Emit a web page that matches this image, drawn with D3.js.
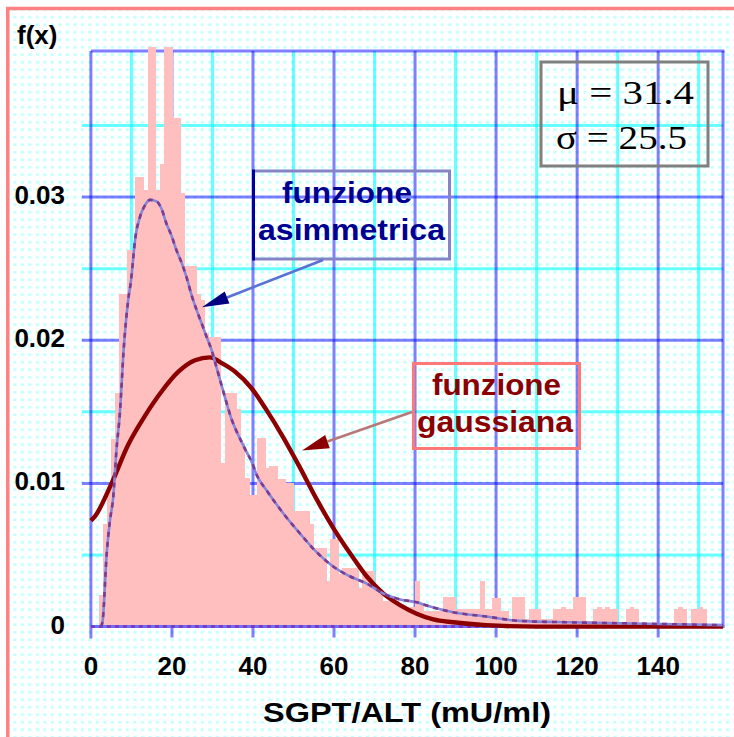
<!DOCTYPE html>
<html>
<head>
<meta charset="utf-8">
<script src="https://cdn.jsdelivr.net/npm/d3@7"></script>
<style>
  html, body { margin: 0; padding: 0; background: #fff; }
  svg { display: block; }
</style>
</head>
<body>
<svg id="chart" width="734" height="737"></svg>
<script>
// ---- data ----------------------------------------------------------------
const xTicks = [0, 20, 40, 60, 80, 100, 120, 140];
const yTicks = [0, 0.01, 0.02, 0.03];
const yTickLabels = ["0", "0.01", "0.02", "0.03"];
const xTitle = "SGPT/ALT (mU/ml)";
const yTitle = "f(x)";

const mu = 31.4;
const sigma = 25.5;

// relative frequency per 1 mU/ml bin, bins start at 0
const histogram = [
  0, 0, 0.0022, 0.0072, 0.0095, 0.0131, 0.0163, 0.0232, 0.0232, 0.0263,
  0.0263, 0.0314, 0.0314, 0.0305, 0.0405, 0.0405, 0.0305, 0.0323, 0.0405, 0.0405,
  0.0355, 0.0355, 0.0303, 0.0252, 0.0252, 0.0252, 0.0232, 0.0228, 0.0205, 0.0202,
  0.0202, 0.0202, 0.0114, 0.0163, 0.0163, 0.0163, 0.0152, 0.0128, 0.0104, 0.0092,
  0.0092, 0.0132, 0.0132, 0.0111, 0.0112, 0.0112, 0.0103, 0.0103, 0.0100, 0.0100,
  0.0081, 0.0081, 0.0081, 0.0081, 0.0072, 0.0055, 0.0055, 0.0055, 0.0032, 0.0061,
  0.0061, 0.0037, 0.0041, 0.0041, 0.0041, 0.0041, 0.0027, 0.0039, 0.0039, 0.0039,
  0.0025, 0.0025, 0.0018, 0.0018, 0.0018, 0.0018, 0.0014, 0.0014, 0.0014, 0.0014,
  0.0032, 0.0015, 0.0011, 0.0011, 0.0011, 0.0011, 0.0011, 0.0021, 0.0021, 0.0021,
  0.0012, 0.0012, 0.0012, 0.0012, 0.0012, 0.0012, 0.0032, 0.0012, 0.0012, 0.0020,
  0.0020, 0.0011, 0.0011, 0.0005, 0.0021, 0.0021, 0.0021, 0.0005, 0.0012, 0.0012,
  0.0012, 0.0005, 0.0005, 0.0005, 0.0012, 0.0012, 0.0014, 0.0012, 0.0012, 0.0021,
  0.0021, 0.0021, 0.0004, 0.0004, 0.0012, 0.0014, 0.0012, 0.0014, 0.0012, 0.0012,
  0, 0, 0.0012, 0.0014, 0.0012, 0, 0, 0, 0, 0,
  0, 0, 0, 0, 0.0012, 0.0014, 0.0012, 0, 0.0012, 0.0012,
  0.0014, 0.0012, 0, 0, 0, 0
];
const binWidth = 1;

// skewed (asymmetric) density curve
const asymX = [2.5, 2.9, 3.9, 4.7, 5.5, 6.3, 7.2, 7.6, 8.0, 8.4, 9.2, 10.0, 10.4, 10.9,
  12.1, 13.3, 14.6, 16.2, 17.4, 18.7, 19.9, 21.1, 22.4, 23.6, 24.9, 26.1, 27.3, 28.6,
  29.8, 31.0, 32.3, 33.5, 34.7, 36.0, 37.2, 38.4, 39.7, 40.9, 43.4, 47.5, 51.6, 55.7,
  59.8, 64.0, 68.1, 72.2, 76.3, 80.4, 83.7, 89.4, 97.6, 105.8, 118, 137, 156];
const asymY = [0, 0.0004, 0.0051, 0.0074, 0.0090, 0.0123, 0.0151, 0.0170, 0.0190, 0.0205,
  0.0228, 0.0244, 0.0256, 0.0270, 0.0286, 0.0294, 0.0298, 0.0297, 0.0292, 0.0281, 0.0273,
  0.0263, 0.0254, 0.0244, 0.0231, 0.0221, 0.0212, 0.0202, 0.0193, 0.0181, 0.0168, 0.0156,
  0.0145, 0.0136, 0.0129, 0.0122, 0.0115, 0.0106, 0.0095, 0.0079, 0.0065, 0.0052, 0.0042,
  0.0035, 0.0030, 0.0023, 0.0019, 0.0017, 0.0014, 0.0010, 0.0007, 0.0004, 0.0003, 0.0002,
  0.0001];

// gaussian density curve
const gaussX = [0, 1, 5.1, 9.2, 13.3, 17.4, 21.6, 25.7, 29.4, 32.3, 35.6, 39.5, 43.4, 47.5,
  51.6, 55.7, 59.8, 64.0, 68.1, 72.2, 76.3, 80.4, 84.5, 89.4, 97.6, 110, 156];
const gaussY = [0.0074, 0.0077, 0.0100, 0.0127, 0.0147, 0.0164, 0.0178, 0.0186, 0.0188,
  0.0184, 0.0178, 0.0167, 0.0151, 0.0132, 0.0111, 0.0089, 0.0069, 0.0051, 0.0035, 0.0023,
  0.0015, 0.0009, 0.0005, 0.0003, 0.0001, 0, 0];

// ---- layout --------------------------------------------------------------
const svg = d3.select("#chart");
const W = 734, H = 737;
const plot = { left: 90.9, right: 723, top: 51, bottom: 626.6 };

const x = d3.scaleLinear().domain([0, 156]).range([plot.left, plot.right]);
const y = d3.scaleLinear().domain([0, 0.0402]).range([plot.bottom, plot.top]);

const sans = "'Liberation Sans', Arial, sans-serif";
const serif = "'Liberation Serif', 'Times New Roman', serif";

// dotted paper background
const defs = svg.append("defs");
const pat = defs.append("pattern")
  .attr("id", "dots").attr("patternUnits", "userSpaceOnUse")
  .attr("x", 5.8).attr("y", 0.8).attr("width", 7.5).attr("height", 7.5);
pat.append("rect").attr("width", 7.5).attr("height", 7.5).attr("fill", "#fff");
pat.append("rect").attr("width", 3.2).attr("height", 2.8).attr("fill", "#c6ffff");

svg.append("rect").attr("width", W).attr("height", H).attr("fill", "#fff");
svg.append("rect").attr("x", 6).attr("y", 7).attr("width", W).attr("height", H)
  .attr("fill", "url(#dots)");
// frame
svg.append("line").attr("x1", 7.8).attr("x2", 7.8).attr("y1", 7).attr("y2", H)
  .attr("stroke", "#ff8080").attr("stroke-width", 3.5);
svg.append("line").attr("x1", 6).attr("x2", W).attr("y1", 8.6).attr("y2", 8.6)
  .attr("stroke", "#ff8080").attr("stroke-width", 3.5);

// ---- grid ----------------------------------------------------------------
const grid = svg.append("g");
const minorX = d3.range(10, 156, 20);
const majorX = d3.range(20, 156, 20);
const minorY = [0.005, 0.015, 0.025, 0.035];
const majorY = [0.01, 0.02, 0.03];

function vLines(vals, color, op, y2) {
  grid.selectAll(null).data(vals).enter().append("line")
    .attr("x1", d => x(d)).attr("x2", d => x(d))
    .attr("y1", plot.top).attr("y2", y2)
    .attr("stroke", color).attr("stroke-opacity", op).attr("stroke-width", 3);
}
function hLines(vals, color, op) {
  grid.selectAll(null).data(vals).enter().append("line")
    .attr("x1", plot.left - 9).attr("x2", plot.right)
    .attr("y1", d => y(d)).attr("y2", d => y(d))
    .attr("stroke", color).attr("stroke-opacity", op).attr("stroke-width", 3);
}
vLines(minorX, "#00ffff", 0.6, plot.bottom);
hLines(minorY, "#00ffff", 0.6);
vLines(majorX, "#0000ff", 0.5, plot.bottom + 11);
hLines(majorY, "#0000ff", 0.5);
// plot frame top and right
grid.append("line").attr("x1", plot.left).attr("x2", plot.right + 1.5)
  .attr("y1", plot.top).attr("y2", plot.top)
  .attr("stroke", "#0000ff").attr("stroke-opacity", 0.5).attr("stroke-width", 3);
grid.append("line").attr("x1", plot.right).attr("x2", plot.right)
  .attr("y1", plot.top).attr("y2", plot.bottom)
  .attr("stroke", "#0000ff").attr("stroke-opacity", 0.5).attr("stroke-width", 3);

// ---- histogram -------------------------------------------------------------
svg.append("g").attr("shape-rendering", "crispEdges")
  .selectAll("rect")
  .data(histogram.map((v, i) => ({ x0: i * binWidth, v })).filter(d => d.v > 0))
  .enter().append("rect")
  .attr("x", d => x(d.x0))
  .attr("width", d => x(d.x0 + binWidth) - x(d.x0) + 0.6)
  .attr("y", d => y(d.v))
  .attr("height", d => y(0) - y(d.v))
  .attr("fill", "#ffbfbf");

// ---- axes ------------------------------------------------------------------
const axes = svg.append("g");
axes.append("line").attr("x1", plot.left).attr("x2", plot.left)
  .attr("y1", plot.top).attr("y2", plot.bottom + 12)
  .attr("stroke", "#0000ff").attr("stroke-opacity", 0.5).attr("stroke-width", 3);

// ---- curves ----------------------------------------------------------------
const line = d3.line().x(d => x(d[0])).y(d => y(d[1])).curve(d3.curveMonotoneX);
const gaussPts = gaussX.map((v, i) => [v, gaussY[i]]);
const asymPts = asymX.map((v, i) => [v, asymY[i]]);

svg.append("path").attr("d", line(gaussPts))
  .attr("fill", "none").attr("stroke", "#8b0000").attr("stroke-width", 4.4)
  .attr("stroke-linejoin", "round");

// x axis line over the curve tails
axes.append("line").attr("x1", plot.left).attr("x2", plot.right + 1.5)
  .attr("y1", plot.bottom).attr("y2", plot.bottom)
  .attr("stroke", "#6f6fff").attr("stroke-width", 3);
axes.append("line").attr("x1", plot.left).attr("x2", plot.right)
  .attr("y1", plot.bottom).attr("y2", plot.bottom)
  .attr("stroke", "#7a3cc0").attr("stroke-width", 3).attr("stroke-dasharray", "4 4");

svg.append("path").attr("d", line(asymPts))
  .attr("fill", "none").attr("stroke", "#8585dc").attr("stroke-width", 2.6);
svg.append("path").attr("d", line(asymPts))
  .attr("fill", "none").attr("stroke", "#7a3c8c").attr("stroke-width", 2.6)
  .attr("stroke-dasharray", "5 5");

// ---- tick labels -----------------------------------------------------------
svg.append("g").selectAll("text").data(yTicks).enter().append("text")
  .attr("x", 65).attr("y", d => y(d) + 7)
  .attr("text-anchor", "end")
  .attr("font-family", sans).attr("font-weight", "bold").attr("font-size", 26)
  .attr("fill", "#000")
  .text((d, i) => yTickLabels[i]);

svg.append("g").selectAll("text").data(xTicks).enter().append("text")
  .attr("x", d => x(d)).attr("y", 675)
  .attr("text-anchor", "middle")
  .attr("font-family", sans).attr("font-weight", "bold").attr("font-size", 26)
  .attr("fill", "#000")
  .text(d => d);

svg.append("text").attr("x", 263).attr("y", 722)
  .attr("font-family", sans).attr("font-weight", "bold").attr("font-size", 28)
  .attr("textLength", 288).attr("lengthAdjust", "spacingAndGlyphs")
  .attr("fill", "#000").text(xTitle);

svg.append("text").attr("x", 17).attr("y", 44)
  .attr("font-family", sans).attr("font-weight", "bold").attr("font-size", 26)
  .attr("fill", "#000").text(yTitle);

// ---- parameter box -------------------------------------------------------------
svg.append("rect").attr("x", 541).attr("y", 62).attr("width", 167).attr("height", 104)
  .attr("fill", "none").attr("stroke", "#808080").attr("stroke-width", 3);
svg.append("text").attr("x", 557).attr("y", 104)
  .attr("font-family", serif).attr("font-size", 34)
  .attr("textLength", 137).attr("lengthAdjust", "spacingAndGlyphs")
  .attr("fill", "#000").text(`\u03bc = ${mu}`);
svg.append("text").attr("x", 556).attr("y", 149)
  .attr("font-family", serif).attr("font-size", 34)
  .attr("textLength", 131).attr("lengthAdjust", "spacingAndGlyphs")
  .attr("fill", "#000").text(`\u03c3 = ${sigma}`);

// ---- annotations ---------------------------------------------------------------
function arrow(tip, tail, lineColor, headColor, len, half) {
  const dx = tail[0] - tip[0], dy = tail[1] - tip[1];
  const L = Math.hypot(dx, dy), ux = dx / L, uy = dy / L;
  const bx = tip[0] + ux * len, by = tip[1] + uy * len;
  svg.append("line").attr("x1", bx).attr("y1", by).attr("x2", tail[0]).attr("y2", tail[1])
    .attr("stroke", lineColor).attr("stroke-width", 2.6);
  svg.append("path")
    .attr("d", `M${tip[0]},${tip[1]}L${bx + uy * half},${by - ux * half}` +
               `L${bx - uy * half},${by + ux * half}Z`)
    .attr("fill", headColor);
}

// skewed-curve label
svg.append("rect").attr("x", 253.5).attr("y", 171).attr("width", 196).attr("height", 88)
  .attr("fill", "none").attr("stroke", "#8585c5").attr("stroke-width", 3);
svg.append("line").attr("x1", 253.5).attr("x2", 253.5).attr("y1", 169.5).attr("y2", 260.5)
  .attr("stroke", "#0000a0").attr("stroke-width", 3);
svg.append("text").attr("x", 282).attr("y", 203)
  .attr("font-family", sans).attr("font-weight", "bold").attr("font-size", 29)
  .attr("textLength", 130).attr("lengthAdjust", "spacingAndGlyphs")
  .attr("fill", "#000090").text("funzione");
svg.append("text").attr("x", 258).attr("y", 240)
  .attr("font-family", sans).attr("font-weight", "bold").attr("font-size", 29)
  .attr("textLength", 187).attr("lengthAdjust", "spacingAndGlyphs")
  .attr("fill", "#000090").text("asimmetrica");
arrow([x(27.4), y(0.0223)], [323, 260], "#5a70d4", "#000080", 27, 6.5);

// gaussian label
svg.append("rect").attr("x", 413.5).attr("y", 363.5).attr("width", 166).attr("height", 85)
  .attr("fill", "none").attr("stroke", "#ff7878").attr("stroke-width", 3);
svg.append("text").attr("x", 432).attr("y", 395)
  .attr("font-family", sans).attr("font-weight", "bold").attr("font-size", 29)
  .attr("textLength", 129).attr("lengthAdjust", "spacingAndGlyphs")
  .attr("fill", "#8b0000").text("funzione");
svg.append("text").attr("x", 417).attr("y", 432)
  .attr("font-family", sans).attr("font-weight", "bold").attr("font-size", 29)
  .attr("textLength", 156).attr("lengthAdjust", "spacingAndGlyphs")
  .attr("fill", "#8b0000").text("gaussiana");
arrow([x(52.1), y(0.0123)], [412, 412], "#b87878", "#8b0000", 27, 7);
</script>
</body>
</html>
